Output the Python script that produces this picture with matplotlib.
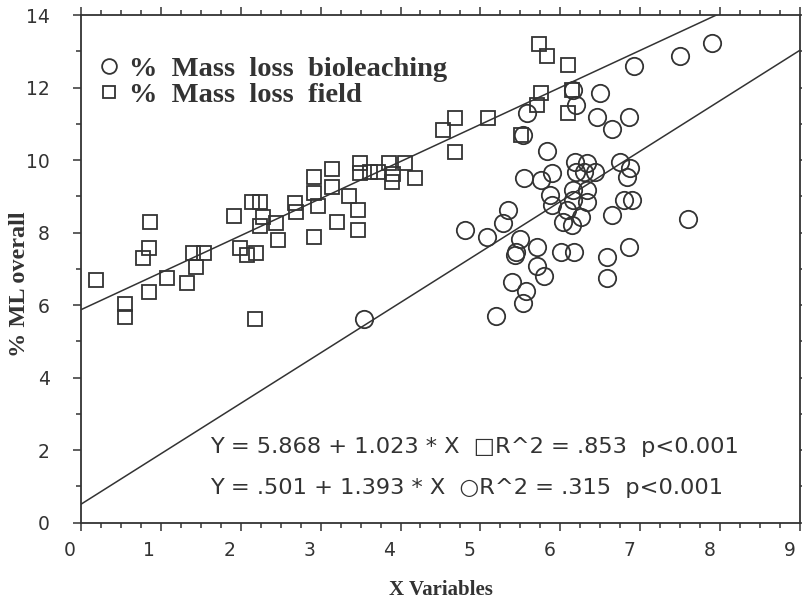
import numpy as np
import matplotlib
matplotlib.use("Agg")
import matplotlib.pyplot as plt
from matplotlib.transforms import ScaledTranslation
from matplotlib.ticker import MultipleLocator

# ---- data: % Mass loss field (squares) ----
field_x = [0.19, 0.56, 0.56, 0.85, 0.78, 0.85, 0.87, 1.08, 1.33, 1.44, 1.40, 1.54,
           1.92, 1.99, 2.08, 2.19, 2.18, 2.14, 2.24, 2.24, 2.28, 2.44, 2.47, 2.68,
           2.69, 2.92, 2.92, 2.97, 2.92, 3.14, 3.14, 3.35, 3.47, 3.47, 3.20, 3.49,
           3.49, 3.62, 3.72, 3.85, 3.91, 3.89, 4.06, 4.18, 4.53, 4.68, 4.68, 5.10,
           5.73, 5.83, 6.10, 5.76, 5.71, 6.15, 6.10, 5.51]
field_y = [6.69, 6.03, 5.66, 6.35, 7.29, 7.57, 8.30, 6.76, 6.62, 7.04, 7.43, 7.43,
           8.46, 7.58, 7.38, 7.45, 5.62, 8.85, 8.85, 8.18, 8.42, 8.26, 7.80, 8.81,
           8.58, 9.54, 9.08, 8.73, 7.87, 9.75, 9.27, 9.01, 8.62, 8.07, 8.28, 9.93,
           9.65, 9.68, 9.68, 9.91, 9.61, 9.40, 9.93, 9.50, 10.83, 11.15, 10.23, 11.17,
           13.20, 12.87, 12.62, 11.86, 11.52, 11.93, 11.31, 10.69]

# ---- data: % Mass loss bioleaching (circles) ----
bio_x = [6.16, 6.19, 6.49, 5.58, 6.46, 6.65, 6.86, 5.53, 5.83, 6.92, 7.50, 7.90,
         5.55, 5.76, 5.89, 6.18, 6.33, 6.20, 6.30, 6.43, 6.74, 6.87, 6.83, 5.87,
         5.89, 6.16, 6.33, 6.16, 6.33, 6.08, 6.26, 6.03, 6.14, 6.80, 6.89, 6.65,
         7.60, 5.35, 5.28, 4.81, 5.08, 5.49, 5.45, 5.43, 5.71, 6.01, 6.17, 6.58,
         6.86, 5.71, 5.80, 5.40, 5.57, 5.53, 5.19, 6.58, 3.54]
bio_y = [11.93, 11.52, 11.86, 11.31, 11.18, 10.85, 11.19, 10.69, 10.25, 12.60, 12.87, 13.22,
         9.50, 9.45, 9.64, 9.96, 9.91, 9.68, 9.68, 9.68, 9.96, 9.77, 9.54, 9.04,
         8.76, 9.18, 9.18, 8.90, 8.85, 8.62, 8.44, 8.30, 8.21, 8.90, 8.90, 8.49,
         8.37, 8.62, 8.27, 8.07, 7.89, 7.82, 7.47, 7.38, 7.61, 7.47, 7.47, 7.34,
         7.61, 7.08, 6.80, 6.65, 6.40, 6.05, 5.71, 6.74, 5.62]

# regression coefficients (intercept, slope)
field_fit = [5.868, 1.023]
bio_fit = [0.501, 1.393]

legend_labels = ["%  Mass  loss  bioleaching", "%  Mass  loss  field"]
eq_texts = ["Y = 5.868 + 1.023 * X  \u25a1R^2 = .853  p<0.001",
            "Y = .501 + 1.393 * X  \u25cbR^2 = .315  p<0.001"]
x_label = "X Variables"
y_label = "% ML overall"

INK = "#333333"

fig = plt.figure(figsize=(8.02, 6.01), dpi=100)
ax = fig.add_axes([0.1004, 0.1303, 0.8977, 0.8447])

ax.set_xlim(0, 9)
ax.set_ylim(0, 14)

xx = np.array([0, 9])
ax.plot(xx, field_fit[0] + field_fit[1] * xx, color=INK, lw=1.1, zorder=2)
ax.plot(xx, bio_fit[0] + bio_fit[1] * xx, color=INK, lw=1.1, zorder=2)

h_bio, = ax.plot(bio_x, bio_y, linestyle="none", marker="o", markersize=12.5,
                 markerfacecolor="none", markeredgecolor=INK, markeredgewidth=1.3, zorder=3)
h_field, = ax.plot(field_x, field_y, linestyle="none", marker="s", markersize=9.5,
                   markerfacecolor="none", markeredgecolor=INK, markeredgewidth=1.3, zorder=3)

leg = ax.legend([h_bio, h_field], legend_labels, loc="upper left",
                bbox_to_anchor=(0.010, 0.942), frameon=False,
                prop={"family": "Liberation Serif", "weight": "bold", "size": 20.5},
                handlelength=0.7, handletextpad=0.35, labelspacing=0.0,
                markerscale=0.85, borderaxespad=0)
for t in leg.get_texts():
    t.set_color(INK)

ax.text(0.1795, 0.149, eq_texts[0], transform=ax.transAxes, fontsize=16.2,
        family="DejaVu Sans", color=INK, va="center", ha="left")
ax.text(0.1795, 0.0683, eq_texts[1], transform=ax.transAxes, fontsize=16.2,
        family="DejaVu Sans", color=INK, va="center", ha="left")

ax.xaxis.set_major_locator(MultipleLocator(1))
ax.xaxis.set_minor_locator(MultipleLocator(0.25))
ax.yaxis.set_major_locator(MultipleLocator(2))
ax.yaxis.set_minor_locator(MultipleLocator(1))

ax.tick_params(which="both", direction="out", top=True, right=True, color=INK,
               labelcolor=INK, labelsize=13.5)
ax.tick_params(which="major", length=6, width=1.1)
ax.tick_params(which="minor", length=3.5, width=1.1)
ax.tick_params(axis="y", which="major", pad=16)
ax.tick_params(axis="x", which="major", pad=7)

for sp in ax.spines.values():
    sp.set_color(INK)
    sp.set_linewidth(1.3)

off = ScaledTranslation(-8 / 72, 0, fig.dpi_scale_trans)
for lab in ax.get_xticklabels():
    lab.set_transform(lab.get_transform() + off)

ax.set_xlabel(x_label, family="Liberation Serif", fontweight="bold", fontsize=15,
              color=INK)
ax.xaxis.set_label_coords(0.5, -0.112)
ax.set_ylabel(y_label, family="Liberation Serif", fontweight="bold", fontsize=17.5,
              color=INK)
ax.yaxis.set_label_coords(-0.070, 0.47)

fig.savefig("out.png", dpi=100)
